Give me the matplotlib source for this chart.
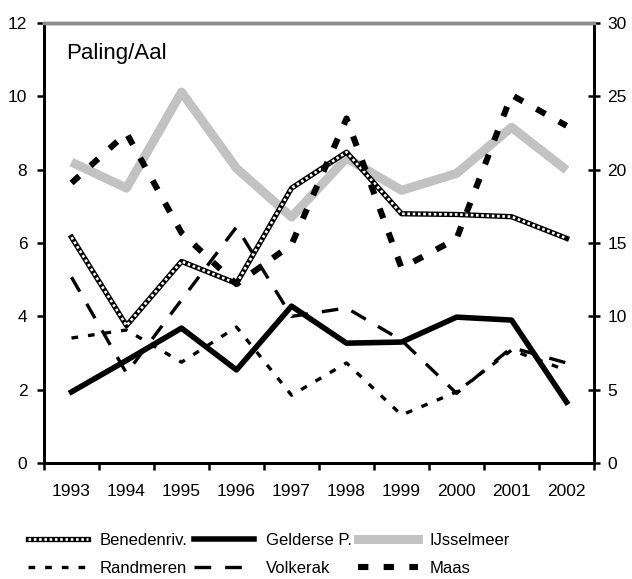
import matplotlib
matplotlib.use("Agg")
import matplotlib.pyplot as plt
from matplotlib.lines import Line2D
from matplotlib.legend_handler import HandlerTuple

plt.rcParams['font.family'] = ['Liberation Sans', 'DejaVu Sans']

years = ['1993', '1994', '1995', '1996', '1997', '1998', '1999', '2000', '2001', '2002']
benedenriv = [6.16, 3.75, 5.5, 4.9, 7.5, 8.48, 6.8, 6.78, 6.72, 6.13]
gelderse = [1.94, 2.8, 3.68, 2.54, 4.28, 3.27, 3.3, 3.98, 3.9, 1.66]
ijsselmeer = [8.21, 7.5, 10.12, 8.04, 6.71, 8.32, 7.44, 7.9, 9.16, 7.99]
randmeren = [3.41, 3.63, 2.75, 3.71, 1.85, 2.73, 1.31, 1.94, 3.08, 2.53]
volkerak = [5.07, 2.45, 4.45, 6.44, 4.0, 4.23, 3.35, 1.9, 3.15, 2.73]
maas_right = [19.1, 22.5, 15.7, 12.2, 14.9, 23.5, 13.3, 15.3, 25.1, 23.0]

x = list(range(len(years)))

GRAY = '#c2c2c2'
st_ijs = dict(color=GRAY, lw=6.5)
st_bened_out = dict(color='black', lw=3.8)
st_bened_in = dict(color='white', lw=1.9, dashes=(1, 1))
st_geld = dict(color='black', lw=4)
st_rand = dict(color='black', lw=2.4, dashes=(2, 3))
st_volk = dict(color='black', lw=2.4, dashes=(5, 4.2))
st_maas = dict(color='black', lw=4.4, dashes=(1.7, 2.5))

fig = plt.figure(figsize=(6.32, 5.79), dpi=100)
ax = fig.add_axes([0.0696, 0.2003, 0.8704, 0.7597])
ax2 = ax.twinx()

ax.plot(x, ijsselmeer, zorder=2, solid_capstyle='butt', **st_ijs)
ax.plot(x, benedenriv, zorder=3, **st_bened_out)
ax.plot(x, benedenriv, zorder=4, **st_bened_in)
ax.plot(x, gelderse, zorder=5, **st_geld)
ax.plot(x, randmeren, zorder=5, **st_rand)
ax.plot(x, volkerak, zorder=5, **st_volk)
ax2.plot(x, maas_right, zorder=5, **st_maas)

ax.set_xlim(-0.5, 9.5)
ax.set_ylim(0, 12)
ax2.set_ylim(0, 30)
ax.set_yticks(range(0, 13, 2))
ax2.set_yticks(range(0, 31, 5))
ax.set_xticks(x)
ax.set_xticklabels(years)
ax.set_xticks([i - 0.5 for i in range(11)], minor=True)
ax.tick_params(axis='x', which='major', length=0, pad=15, labelsize=12.5)
ax.tick_params(axis='x', which='minor', length=5, width=1.8, direction='out')
ax.tick_params(axis='y', length=5, width=1.8, direction='out', labelsize=12.5, pad=7)
ax2.tick_params(axis='y', length=9, width=1.8, direction='inout', labelsize=12.5, pad=5)

for a in (ax, ax2):
    for s in ('left', 'right', 'bottom'):
        a.spines[s].set_linewidth(2)
    a.spines['top'].set_color('#8c8c8c')
    a.spines['top'].set_linewidth(2.5)

ax.text(0.04, 0.932, 'Paling/Aal', transform=ax.transAxes, fontsize=16,
        ha='left', va='center')

h_bened = (Line2D([], [], **st_bened_out), Line2D([], [], **st_bened_in))
h_geld = Line2D([], [], **st_geld)
h_ijs = Line2D([], [], **st_ijs)
h_rand = Line2D([], [], **st_rand)
h_volk = Line2D([], [], **st_volk)
h_maas = Line2D([], [], **st_maas)

handles = [h_bened, h_rand, h_geld, h_volk, h_ijs, h_maas]
labels = ['Benedenriv.', 'Randmeren', 'Gelderse P.', 'Volkerak', 'IJsselmeer', 'Maas']
fig.legend(handles, labels, ncol=3, loc='upper left', bbox_to_anchor=(0.044, 0.079),
           frameon=False, fontsize=12, handlelength=3.6, handletextpad=0.7,
           columnspacing=0.4, labelspacing=0.78, borderpad=0, borderaxespad=0,
           handler_map={tuple: HandlerTuple(ndivide=1, pad=0)})

fig.savefig('out.png', dpi=100)
